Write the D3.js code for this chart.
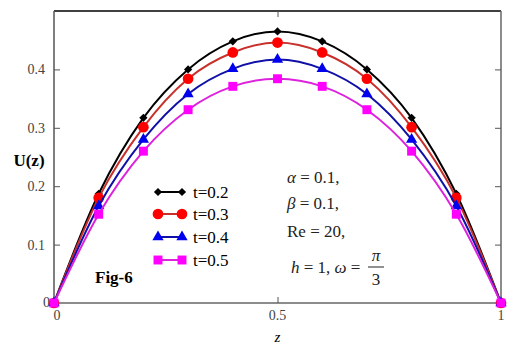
<!DOCTYPE html>
<html>
<head>
<meta charset="utf-8">
<script src="https://cdn.jsdelivr.net/npm/d3@7"></script>
<style>
  body { margin: 0; background: #fff; }
  text { font-family: "Liberation Serif", "DejaVu Serif", serif; }
</style>
</head>
<body>
<div id="chart"></div>
<script>
var svgWidth = 525;
var svgHeight = 352;

var margin = { top: 11, right: 24, bottom: 49, left: 54 };
var width = svgWidth - margin.left - margin.right;
var height = svgHeight - margin.top - margin.bottom;

// data
var zValues = [0, 0.1, 0.2, 0.3, 0.4, 0.5, 0.6, 0.7, 0.8, 0.9, 1];
var u_t02 = [0, 0.187, 0.317, 0.400, 0.448, 0.465, 0.448, 0.400, 0.317, 0.187, 0];
var u_t03 = [0, 0.180, 0.301, 0.384, 0.429, 0.446, 0.429, 0.384, 0.301, 0.180, 0];
var u_t04 = [0, 0.166, 0.280, 0.358, 0.401, 0.417, 0.401, 0.358, 0.280, 0.166, 0];
var u_t05 = [0, 0.152, 0.260, 0.331, 0.371, 0.384, 0.371, 0.331, 0.260, 0.152, 0];
var seriesNames = ["t=0.2", "t=0.3", "t=0.4", "t=0.5"];
var yTicks = [0.1, 0.2, 0.3, 0.4];
var xTicks = [0, 0.5, 1];

// diamond = square turned 45deg
var styles = [
  { line: "#000000", fill: "#000000", symbol: d3.symbolSquare, size: 34, rot: 45 },
  { line: "#c8302c", fill: "#ff0000", symbol: d3.symbolCircle, size: 90, rot: 0 },
  { line: "#1010a8", fill: "#0000ee", symbol: d3.symbolTriangle, size: 55, rot: 0 },
  { line: "#dd22dd", fill: "#ff00ff", symbol: d3.symbolSquare, size: 80, rot: 0 }
];

var series = [u_t02, u_t03, u_t04, u_t05].map(function(vals, i) {
  return { name: seriesNames[i], values: zValues.map((z, j) => ({ z: z, u: vals[j] })), style: styles[i] };
});

var svg = d3.select("#chart").append("svg")
  .attr("width", svgWidth)
  .attr("height", svgHeight);

var chartGroup = svg.append("g")
  .attr("transform", `translate(${margin.left}, ${margin.top})`);

var xScale = d3.scaleLinear().domain([0, 1]).range([0, width]);
var yScale = d3.scaleLinear().domain([0, 0.5]).range([height, 0]);

// frame
chartGroup.append("line").attr("x1", 0).attr("x2", width).attr("y1", 0).attr("y2", 0)
  .attr("stroke", "#000").attr("stroke-width", 1.5);
chartGroup.append("line").attr("x1", 0).attr("x2", width).attr("y1", height).attr("y2", height)
  .attr("stroke", "#666").attr("stroke-width", 1.5);
chartGroup.append("line").attr("x1", 0).attr("x2", 0).attr("y1", 0).attr("y2", height)
  .attr("stroke", "#555").attr("stroke-width", 1.5);
chartGroup.append("line").attr("x1", width).attr("x2", width).attr("y1", 0).attr("y2", height)
  .attr("stroke", "#666").attr("stroke-width", 1.5);

// axes with inward ticks
var leftAxis = d3.axisLeft(yScale).tickValues(yTicks).tickSize(-6).tickPadding(9).tickFormat(d3.format(".1f"));
var rightAxis = d3.axisRight(yScale).tickValues(yTicks).tickSize(-6).tickFormat("");
var bottomAxis = d3.axisBottom(xScale).tickValues([0.5]).tickSize(-6).tickFormat("");
var topAxis = d3.axisTop(xScale).tickValues([0.5]).tickSize(-6).tickFormat("");

function styleAxis(g) {
  g.select(".domain").remove();
  g.selectAll(".tick line").attr("stroke", "#555");
  g.selectAll(".tick text").attr("fill", "#444").style("font-size", "14px")
    .style("font-family", "'Liberation Serif', serif");
}

chartGroup.append("g").call(leftAxis).call(styleAxis);
chartGroup.append("g").attr("transform", `translate(${width}, 0)`).call(rightAxis).call(styleAxis);
chartGroup.append("g").attr("transform", `translate(0, ${height})`).call(bottomAxis).call(styleAxis);
chartGroup.append("g").call(topAxis).call(styleAxis);

// x tick labels
chartGroup.selectAll(".xlab")
  .data(xTicks)
  .enter()
  .append("text")
  .attr("x", d => xScale(d) + (d === 0 ? 3 : 0))
  .attr("y", height + 17)
  .attr("text-anchor", "middle")
  .attr("fill", "#444")
  .style("font-size", "14px")
  .text(d => d === 0.5 ? "0.5" : d);

// y zero label
chartGroup.append("text")
  .attr("x", -4).attr("y", height + 4)
  .attr("text-anchor", "end").attr("fill", "#444")
  .style("font-size", "14px").text("0");

// axis titles
svg.append("text").attr("x", 29).attr("y", 166)
  .attr("text-anchor", "middle")
  .style("font-size", "17px").style("font-weight", "bold")
  .text("U(z)");
svg.append("text").attr("x", margin.left + width / 2).attr("y", 342)
  .attr("text-anchor", "middle")
  .style("font-size", "15px").style("font-style", "italic")
  .text("z");

// lines
var line = d3.line()
  .x(d => xScale(d.z))
  .y(d => yScale(d.u))
  .curve(d3.curveMonotoneX);

var seriesGroup = chartGroup.selectAll(".series")
  .data(series)
  .enter()
  .append("g");

seriesGroup.append("path")
  .attr("d", d => line(d.values))
  .attr("fill", "none")
  .attr("stroke", d => d.style.line)
  .attr("stroke-width", 2);

seriesGroup.each(function(s) {
  d3.select(this).selectAll("path.pt")
    .data(s.values)
    .enter()
    .append("path")
    .attr("class", "pt")
    .attr("transform", d => `translate(${xScale(d.z)}, ${yScale(d.u)}) rotate(${s.style.rot})`)
    .attr("d", d3.symbol().type(s.style.symbol).size(s.style.size))
    .attr("fill", s.style.fill);
});

// legend
var legend = svg.append("g");
var legendY = [192, 214, 237, 260];
series.forEach(function(s, i) {
  var g = legend.append("g").attr("transform", `translate(0, ${legendY[i]})`);
  g.append("line").attr("x1", 158).attr("x2", 182).attr("y1", 0).attr("y2", 0)
    .attr("stroke", s.style.line).attr("stroke-width", 2);
  [158, 182].forEach(function(x) {
    g.append("path")
      .attr("transform", `translate(${x}, 0) rotate(${s.style.rot})`)
      .attr("d", d3.symbol().type(s.style.symbol).size(s.style.size))
      .attr("fill", s.style.fill);
  });
  g.append("text").attr("x", 193).attr("y", 6)
    .style("font-size", "17px").text(s.name);
});

// Fig label
svg.append("text").attr("x", 95).attr("y", 283)
  .style("font-size", "17px").style("font-weight", "bold")
  .text("Fig-6");

// parameter annotations
var notes = svg.append("g").style("font-size", "17px").attr("fill", "#222");
notes.append("text").attr("x", 287).attr("y", 183)
  .html('<tspan font-style="italic">α</tspan> = 0.1,');
notes.append("text").attr("x", 287).attr("y", 209)
  .html('<tspan font-style="italic">β</tspan> = 0.1,');
notes.append("text").attr("x", 287).attr("y", 237)
  .text("Re = 20,");
notes.append("text").attr("x", 291).attr("y", 273)
  .html('<tspan font-style="italic">h</tspan> = 1, <tspan font-style="italic">ω</tspan> =');
notes.append("text").attr("x", 376).attr("y", 261).attr("text-anchor", "middle")
  .style("font-style", "italic").text("π");
notes.append("line").attr("x1", 368).attr("x2", 384).attr("y1", 267).attr("y2", 267)
  .attr("stroke", "#222").attr("stroke-width", 1);
notes.append("text").attr("x", 376).attr("y", 285).attr("text-anchor", "middle")
  .text("3");
</script>
</body>
</html>
